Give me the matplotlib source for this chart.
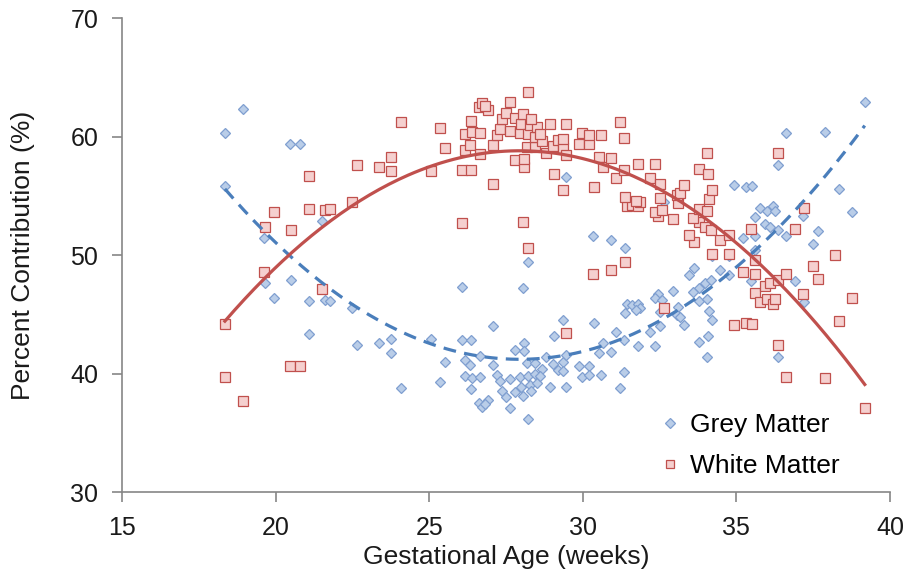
import numpy as np
import matplotlib
matplotlib.use("Agg")
import matplotlib.pyplot as plt

plt.rcParams['font.family'] = ['Liberation Sans', 'DejaVu Sans']

# gestational age of each scan (weeks)
age = [18.35, 18.35, 18.93, 19.63, 19.65, 19.95, 20.47, 20.78, 20.5, 21.08,
       21.08, 21.52, 21.6, 21.78, 22.5, 22.65, 23.37, 23.77, 23.77, 24.07,
       25.05, 25.35, 25.5, 26.07, 26.07, 26.36, 26.17, 26.33, 26.65, 26.17,
       26.38, 26.65, 26.36, 26.62, 26.72, 26.92, 26.82, 27.08, 27.08, 27.2,
       27.3, 27.63, 27.36, 27.5, 27.62, 27.8, 27.79, 27.96, 28.0, 28.09,
       28.09, 28.06, 28.23, 28.19, 28.44, 28.23, 28.44, 28.27, 28.5, 28.06,
       28.3, 28.23, 28.66, 28.6, 28.79, 28.93, 29.04, 29.2, 29.35, 29.37,
       29.07, 29.37, 29.47, 29.47, 29.47, 29.89, 30.2, 29.96, 30.2, 30.6,
       30.53, 30.65, 30.92, 30.36, 30.34, 30.91, 31.08, 31.35, 31.79, 31.2,
       31.35, 31.37, 31.43, 31.59, 31.81, 31.86, 31.37, 31.73, 32.19, 32.35,
       32.46, 32.35, 32.57, 32.5, 32.5, 32.95, 32.64, 33.1, 33.06, 33.16,
       33.3, 33.62, 33.47, 33.79, 33.6, 33.8, 33.79, 33.98, 34.16, 34.06,
       34.1, 34.2, 34.09, 34.06, 34.47, 34.77, 34.77, 34.93, 35.33, 35.5,
       35.22, 35.6, 35.6, 35.47, 35.6, 35.77, 35.99, 35.93, 36.18, 36.26,
       36.1, 36.36, 36.6, 36.34, 36.6, 36.34, 36.9, 37.18, 37.2, 37.65,
       37.48, 37.9, 38.34, 38.77, 38.2, 39.18, 34.2]

grey_matter = [60.3, 55.8, 62.3, 51.4, 47.6, 46.4, 59.4, 59.4, 47.9, 46.1,
               43.3, 52.9, 46.2, 46.1, 45.5, 42.4, 42.6, 42.9, 41.7, 38.8,
               42.9, 39.3, 41.0, 47.3, 42.8, 42.8, 41.1, 40.7, 41.5, 39.8,
               39.6, 39.7, 38.7, 37.5, 37.2, 37.8, 37.4, 44.0, 40.7, 39.9,
               39.4, 39.5, 38.5, 38.0, 37.1, 38.4, 42.0, 39.7, 38.9, 42.6,
               41.9, 47.2, 49.4, 40.9, 40.9, 39.8, 40.0, 39.0, 39.2, 38.1,
               38.5, 36.2, 40.4, 39.8, 41.4, 38.9, 40.8, 40.3, 41.0, 40.2,
               43.2, 44.5, 41.6, 38.9, 56.6, 40.6, 40.6, 39.7, 39.9, 39.9,
               41.7, 42.6, 41.8, 44.3, 51.6, 51.3, 43.5, 42.8, 42.3, 38.8,
               40.1, 50.6, 45.9, 45.8, 45.9, 45.5, 45.1, 45.4, 43.5, 42.3,
               46.7, 46.4, 46.2, 45.2, 44.0, 47.0, 54.5, 45.6, 44.9, 44.8,
               44.1, 48.9, 48.3, 47.2, 46.9, 46.1, 42.7, 47.6, 47.9, 46.3,
               45.3, 44.5, 43.2, 41.4, 48.7, 49.9, 48.3, 55.9, 55.7, 55.8,
               51.4, 51.6, 50.4, 47.8, 53.2, 54.0, 53.7, 52.6, 54.1, 53.7,
               52.4, 52.1, 51.6, 57.6, 60.3, 41.4, 47.8, 53.3, 46.0, 52.0,
               50.9, 60.4, 55.6, 53.6, 50.0, 62.9, 49.9]

white_matter = [39.7, 44.2, 37.7, 48.6, 52.4, 53.6, 40.6, 40.6, 52.1, 53.9,
                56.7, 47.1, 53.8, 53.9, 54.5, 57.6, 57.4, 57.1, 58.3, 61.2,
                57.1, 60.7, 59.0, 52.7, 57.2, 57.2, 58.9, 59.3, 58.5, 60.2,
                60.4, 60.3, 61.3, 62.5, 62.8, 62.2, 62.6, 56.0, 59.3, 60.1,
                60.6, 60.5, 61.5, 62.0, 62.9, 61.6, 58.0, 60.3, 61.1, 57.4,
                58.1, 52.8, 50.6, 59.1, 59.1, 60.2, 60.0, 61.0, 60.8, 61.9,
                61.5, 63.8, 59.6, 60.2, 58.6, 61.1, 59.2, 59.7, 59.0, 59.8,
                56.8, 55.5, 58.4, 61.1, 43.4, 59.4, 59.4, 60.3, 60.1, 60.1,
                58.3, 57.4, 58.2, 55.7, 48.4, 48.7, 56.5, 57.2, 57.7, 61.2,
                59.9, 49.4, 54.1, 54.2, 54.1, 54.5, 54.9, 54.6, 56.5, 57.7,
                53.3, 53.6, 53.8, 54.8, 56.0, 53.0, 45.5, 54.4, 55.1, 55.2,
                55.9, 51.1, 51.7, 52.8, 53.1, 53.9, 57.3, 52.4, 52.1, 53.7,
                54.7, 55.5, 56.8, 58.6, 51.3, 50.1, 51.7, 44.1, 44.3, 44.2,
                48.6, 48.4, 49.6, 52.2, 46.8, 46.0, 46.3, 47.4, 45.9, 46.3,
                47.6, 47.9, 48.4, 42.4, 39.7, 58.6, 52.2, 46.7, 54.0, 48.0,
                49.1, 39.6, 44.4, 46.4, 50.0, 37.1, 50.1]

x_ticks = [15, 20, 25, 30, 35, 40]
y_ticks = [30, 40, 50, 60, 70]

age = np.array(age)
grey_matter = np.array(grey_matter)
white_matter = np.array(white_matter)

fig = plt.figure(figsize=(9.11, 5.84), dpi=100)
ax = fig.add_axes([0.1339, 0.1575, 0.843, 0.8116])

ax.plot(age, grey_matter, linestyle='none', marker='D', ms=5.4,
        mfc='#b9cde8', mec='#7f9fd0', mew=0.9, label='Grey Matter', zorder=3)
ax.plot(age, white_matter, linestyle='none', marker='s', ms=7.2,
        mfc='#f5d0cf', mec='#c0504d', mew=0.9, label='White Matter', zorder=3)

# second-order trend lines
xs = np.linspace(age.min(), age.max(), 200)
grey_fit = np.polyval(np.polyfit(age, grey_matter, 2), xs)
white_fit = np.polyval(np.polyfit(age, white_matter, 2), xs)
ax.plot(xs, grey_fit, color='#4a7ebb', lw=2.3, dashes=(4, 2.6), zorder=4)
ax.plot(xs, white_fit, color='#c0504d', lw=2.3, zorder=4)

ax.set_xlim(15, 40)
ax.set_ylim(30, 70)
ax.set_xticks(x_ticks)
ax.set_yticks(y_ticks)

for side in ['top', 'right']:
    ax.spines[side].set_visible(False)
for side in ['left', 'bottom']:
    ax.spines[side].set_color('#868686')
    ax.spines[side].set_linewidth(1.2)
ax.tick_params(axis='both', colors='#868686', length=7, width=1.2,
               labelsize=18, labelcolor='#1a1a1a')
ax.tick_params(axis='y', pad=10)
ax.tick_params(axis='x', pad=10)

ax.set_xlabel('Gestational Age (weeks)', fontsize=19, color='#1a1a1a')
ax.set_ylabel('Percent Contribution (%)', fontsize=19, color='#1a1a1a')
ax.xaxis.set_label_coords(0.5, -0.112)
ax.yaxis.set_label_coords(-0.113, 0.5)

ax.legend(loc='lower left', bbox_to_anchor=(0.672, -0.02), frameon=False,
          fontsize=19, markerscale=0.85, handlelength=0.6,
          handletextpad=0.45, labelspacing=0.62)

fig.savefig('out.png', dpi=100)
